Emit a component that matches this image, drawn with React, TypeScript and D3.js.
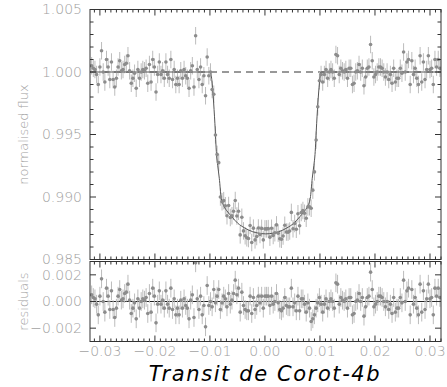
import React from "react";
import * as d3 from "d3";

// phase in units of 1e-4
const phase1e4 = [
  -315,-312,-309,-306,-303,-300,-297,-294,-291,-288,
  -285,-282,-279,-276,-273,-270,-267,-264,-261,-258,
  -255,-252,-249,-246,-243,-240,-237,-234,-231,-228,
  -225,-222,-219,-216,-213,-210,-207,-204,-201,-198,
  -195,-192,-189,-186,-183,-180,-177,-174,-171,-168,
  -165,-162,-159,-156,-153,-150,-147,-144,-141,-138,
  -135,-132,-129,-126,-123,-120,-117,-114,-111,-108,
  -105,-102,-99,-96,-93,-90,-87,-84,-81,-78,
  -75,-72,-69,-66,-63,-60,-57,-54,-51,-48,
  -45,-42,-39,-36,-33,-30,-27,-24,-21,-18,
  -15,-12,-9,-6,-3,0,3,6,9,12,
  15,18,21,24,27,30,33,36,39,42,
  45,48,51,54,57,60,63,66,69,72,
  75,78,81,84,87,90,93,96,99,102,
  105,108,111,114,117,120,123,126,129,132,
  135,138,141,144,147,150,153,156,159,162,
  165,168,171,174,177,180,183,186,189,192,
  195,198,201,204,207,210,213,216,219,222,
  225,228,231,234,237,240,243,246,249,252,
  255,258,261,264,267,270,273,276,279,282,
  285,288,291,294,297,300,303,306,309,312,
  315,318,
];

const flux = [
  1.0005,1.0003,1.0002,0.9998,0.9990,1.0004,1.0017,1.0000,0.9992,1.0010,
  1.0004,0.9994,1.0008,0.9994,0.9988,0.9995,1.0004,1.0009,1.0001,1.0002,
  1.0006,1.0007,1.0013,1.0001,0.9991,0.9995,0.9999,0.9987,1.0002,0.9995,
  1.0000,1.0002,1.0001,1.0003,0.9991,1.0006,0.9992,1.0010,1.0004,0.9984,
  0.9998,1.0008,0.9998,1.0001,0.9995,1.0008,0.9998,0.9995,1.0010,0.9994,
  1.0002,0.9990,0.9995,0.9990,1.0001,0.9995,1.0002,0.9997,0.9995,0.9987,
  1.0001,1.0005,0.9988,1.0029,1.0002,0.9994,1.0004,0.9990,0.9997,0.9981,
  1.0012,0.9997,1.0000,0.9986,0.99822,0.99496,0.99341,0.99275,0.9900,0.98962,
  0.98971,0.9893,0.9885,0.98932,0.98836,0.9885,0.98886,0.98972,0.98848,0.98886,
  0.98697,0.98838,0.98729,0.9869,0.98674,0.98668,0.98772,0.98636,0.98751,0.98657,
  0.98684,0.98752,0.9870,0.98749,0.98657,0.98745,0.98745,0.98747,0.98679,0.9875,
  0.98692,0.98714,0.98777,0.98711,0.98666,0.98662,0.98688,0.98774,0.9872,0.98719,
  0.98728,0.98877,0.98746,0.98788,0.98742,0.98866,0.9877,0.98876,0.98892,0.9887,
  0.9883,0.98921,0.98922,0.9891,0.99055,0.99201,0.99456,0.99722,0.9993,0.9998,
  0.9992,0.9998,1.0002,0.9995,1.0000,1.0002,1.0000,0.9995,1.0014,1.0013,
  0.9998,1.0003,1.0001,1.0000,1.0002,0.9995,1.0003,1.0003,0.9990,0.9991,
  1.0000,1.0001,1.0006,1.0000,1.0003,0.9989,0.9996,1.0003,1.0004,1.0022,
  1.0009,0.9996,0.9998,1.0000,1.0004,1.0004,1.0003,1.0000,0.9996,1.0000,
  0.9994,0.9998,0.9991,1.0003,0.9992,0.9995,0.9995,1.0003,0.9999,1.0016,
  1.0000,1.0008,1.0010,0.9990,1.0009,0.9998,1.0003,0.9995,0.9990,1.0013,
  0.9992,1.0008,0.9994,1.0002,1.0013,1.0002,1.0003,0.9990,1.0010,1.0004,
  1.0010,1.0003,
];

const residuals = [
  0.0005,0.0003,0.0002,-0.0002,-0.0010,0.0004,0.0017,0.0000,-0.0008,0.0010,
  0.0004,-0.0006,0.0008,-0.0006,-0.0012,-0.0005,0.0004,0.0009,0.0001,0.0002,
  0.0006,0.0007,0.0013,0.0001,-0.0009,-0.0005,-0.0001,-0.0013,0.0002,-0.0005,
  0.0000,0.0002,0.0001,0.0003,-0.0009,0.0006,-0.0008,0.0010,0.0004,-0.0016,
  -0.0002,0.0008,-0.0002,0.0001,-0.0005,0.0008,-0.0002,-0.0005,0.0010,-0.0006,
  0.0002,-0.0010,-0.0005,-0.0010,0.0001,-0.0005,0.0002,-0.0003,-0.0005,-0.0013,
  0.0001,0.0005,-0.0012,0.0029,0.0002,-0.0006,0.0004,-0.0010,-0.0003,-0.0019,
  0.0012,-0.0003,0.0000,-0.0004,0.0009,-0.0001,0.0004,0.0009,-0.0006,-0.0001,
  0.0004,0.0002,-0.0004,0.0006,-0.0002,0.0001,0.0006,0.0016,0.0005,0.0010,
  -0.0008,0.0007,-0.0003,-0.0006,-0.0007,-0.0007,0.0004,-0.0009,0.0003,-0.0006,
  -0.0003,0.0004,-0.0001,0.0004,-0.0005,0.0004,0.0004,0.0004,-0.0003,0.0004,
  -0.0002,0.0000,0.0006,-0.0001,-0.0006,-0.0007,-0.0005,0.0003,-0.0003,-0.0004,
  -0.0004,0.0010,-0.0004,-0.0001,-0.0007,0.0004,-0.0007,0.0002,0.0002,-0.0002,
  -0.0008,-0.0001,-0.0005,-0.0015,-0.0013,-0.0010,-0.0005,-0.0001,0.0003,-0.0002,
  -0.0008,-0.0002,0.0002,-0.0005,0.0000,0.0002,0.0000,-0.0005,0.0014,0.0013,
  -0.0002,0.0003,0.0001,0.0000,0.0002,-0.0005,0.0003,0.0003,-0.0010,-0.0009,
  0.0000,0.0001,0.0006,0.0000,0.0003,-0.0011,-0.0004,0.0003,0.0004,0.0022,
  0.0009,-0.0004,-0.0002,0.0000,0.0004,0.0004,0.0003,0.0000,-0.0004,0.0000,
  -0.0006,-0.0002,-0.0009,0.0003,-0.0008,-0.0005,-0.0005,0.0003,-0.0001,0.0016,
  0.0000,0.0008,0.0010,-0.0010,0.0009,-0.0002,0.0003,-0.0005,-0.0010,0.0013,
  -0.0008,0.0008,-0.0006,0.0002,0.0013,0.0002,0.0003,-0.0010,0.0010,0.0004,
  0.0010,0.0003,
];

const fluxError = 0.0007;

const modelPhase = [
  -0.0318,-0.00989,-0.00967,-0.0094,-0.0091,-0.0088,-0.00858,-0.0083,-0.00794,
  -0.00749,-0.00676,-0.00603,-0.00494,-0.00367,-0.00221,-0.0013,0.00015,
  0.0016,0.00251,0.00397,0.00524,0.00633,0.00706,0.00779,0.00824,0.0086,
  0.00888,0.0091,0.0094,0.0097,0.00997,0.01019,0.032,
];
const modelFlux = [
  1.0,1.0,0.9994,0.998,0.9959,0.9934,0.9925,0.9915,0.9899,
  0.9893,0.9888,0.98842,0.9879,0.98752,0.98722,0.98712,0.98705,
  0.98712,0.98722,0.98752,0.9879,0.98842,0.9888,0.9893,0.9899,0.9915,
  0.9925,0.9934,0.9959,0.998,0.9994,1.0,1.0,
];

const xDomain = [-0.0318, 0.032];
const yMainDomain = [0.985, 1.005];
const yResDomain = [-0.003, 0.003];
const title = "Transit de Corot-4b";

const W = 447, H = 387;
const L = 90, R = 441;
const MT = 9.5, MB = 259.5;
const RT = 261.5, RB = 341.5;

const GRAY_TXT = "#a0a0a0";
const AX = "#333";
const FONT = "DejaVu Sans, sans-serif";

export default function App() {
  const x = d3.scaleLinear().domain(xDomain).range([L, R]);
  const yM = d3.scaleLinear().domain(yMainDomain).range([MB, MT]);
  const yR = d3.scaleLinear().domain(yResDomain).range([RB, RT]);

  const pts = phase1e4.map((p, i) => ({ p: p / 10000, f: flux[i], r: residuals[i] }));

  const xMajor = x.ticks(7);
  const xMinor = x.ticks(60).filter((t) => !xMajor.some((m) => Math.abs(m - t) < 1e-9));
  const yMajor = yM.ticks(4);
  const yMinor = yM.ticks(20).filter((t) => !yMajor.some((m) => Math.abs(m - t) < 1e-9));
  const rMajor = yR.ticks(3);

  const fmtX = d3.format(".2f");
  const fmtY = d3.format(".3f");

  const modelLine = d3
    .line<number>()
    .x((_, i) => x(modelPhase[i]))
    .y((d) => yM(d))
    .curve(d3.curveMonotoneX)(modelFlux);

  const xTicks = (yTop: number, yBot: number, key: string) => (
    <g key={key}>
      {xMajor.map((t) => (
        <g key={"M" + t}>
          <line x1={x(t)} x2={x(t)} y1={yTop} y2={yTop + 6} stroke={AX} />
          <line x1={x(t)} x2={x(t)} y1={yBot} y2={yBot - 6} stroke={AX} />
        </g>
      ))}
      {xMinor.map((t) => (
        <g key={"m" + t}>
          <line x1={x(t)} x2={x(t)} y1={yTop} y2={yTop + 3} stroke={AX} />
          <line x1={x(t)} x2={x(t)} y1={yBot} y2={yBot - 3} stroke={AX} />
        </g>
      ))}
    </g>
  );

  return (
    <svg
      width={W}
      height={H}
      style={{ position: "absolute", left: 0, top: 0, background: "#fff" }}
      fontFamily={FONT}
    >
      <rect width={W} height={H} fill="#fff" />
      <defs>
        <clipPath id="clipMain">
          <rect x={L} y={MT} width={R - L} height={MB - MT} />
        </clipPath>
        <clipPath id="clipRes">
          <rect x={L} y={RT} width={R - L} height={RB - RT} />
        </clipPath>
      </defs>

      {/* main panel */}
      <g clipPath="url(#clipMain)">
        <line x1={L} x2={R} y1={yM(1)} y2={yM(1)} stroke="#333" strokeDasharray="7,5" />
        {pts.map((d, i) => (
          <line key={"e" + i} x1={x(d.p)} x2={x(d.p)} y1={yM(d.f - fluxError)} y2={yM(d.f + fluxError)} stroke="#bcbcbc" strokeWidth={1} />
        ))}
        <path d={modelLine || ""} fill="none" stroke="#555" strokeWidth={1} />
        {pts.map((d, i) => (
          <circle key={"c" + i} cx={x(d.p)} cy={yM(d.f)} r={1.8} fill="#8c8c8c" />
        ))}
      </g>
      <rect x={L} y={MT} width={R - L} height={MB - MT} fill="none" stroke={AX} />
      {xTicks(MT, MB, "xtm")}
      {yMajor.map((t) => (
        <g key={"ym" + t}>
          <line x1={L} x2={L + 6} y1={yM(t)} y2={yM(t)} stroke={AX} />
          <line x1={R} x2={R - 6} y1={yM(t)} y2={yM(t)} stroke={AX} />
          <text x={L - 8} y={yM(t)} dy="0.35em" textAnchor="end" fontSize={14} fontWeight={200} fill={GRAY_TXT}>
            {fmtY(t)}
          </text>
        </g>
      ))}
      {yMinor.map((t) => (
        <g key={"yn" + t}>
          <line x1={L} x2={L + 3.5} y1={yM(t)} y2={yM(t)} stroke={AX} />
          <line x1={R} x2={R - 3.5} y1={yM(t)} y2={yM(t)} stroke={AX} />
        </g>
      ))}
      <text
        transform={`translate(23,${(MT + MB) / 2}) rotate(-90)`}
        textAnchor="middle"
        dy="0.35em"
        fontSize={13}
        fontWeight={200}
        fill={GRAY_TXT}
      >
        normalised flux
      </text>

      {/* residual panel */}
      <g clipPath="url(#clipRes)">
        <line x1={L} x2={R} y1={yR(0)} y2={yR(0)} stroke="#222" />
        {pts.map((d, i) => (
          <line key={"re" + i} x1={x(d.p)} x2={x(d.p)} y1={yR(d.r - fluxError)} y2={yR(d.r + fluxError)} stroke="#bcbcbc" strokeWidth={1} />
        ))}
        {pts.map((d, i) => (
          <circle key={"rc" + i} cx={x(d.p)} cy={yR(d.r)} r={1.8} fill="#8c8c8c" />
        ))}
      </g>
      <rect x={L} y={RT} width={R - L} height={RB - RT} fill="none" stroke={AX} />
      {xTicks(RT, RB, "xtr")}
      {rMajor.map((t) => (
        <g key={"rm" + t}>
          <line x1={L} x2={L + 6} y1={yR(t)} y2={yR(t)} stroke={AX} />
          <line x1={R} x2={R - 6} y1={yR(t)} y2={yR(t)} stroke={AX} />
          <text x={L - 8} y={yR(t)} dy="0.35em" textAnchor="end" fontSize={14} fontWeight={200} fill={GRAY_TXT}>
            {fmtY(t)}
          </text>
        </g>
      ))}
      <text
        transform={`translate(23,${(RT + RB) / 2}) rotate(-90)`}
        textAnchor="middle"
        dy="0.35em"
        fontSize={13}
        fontWeight={200}
        fill={GRAY_TXT}
      >
        residuals
      </text>
      {xMajor.map((t) => (
        <text key={"xl" + t} x={x(t)} y={356} textAnchor="middle" fontSize={14} fontWeight={200} fill={GRAY_TXT}>
          {fmtX(t)}
        </text>
      ))}

      <text x={265} y={381} textAnchor="middle" fontSize={21} letterSpacing={1.6} fontStyle="italic" fill="#000">
        {title}
      </text>
    </svg>
  );
}
